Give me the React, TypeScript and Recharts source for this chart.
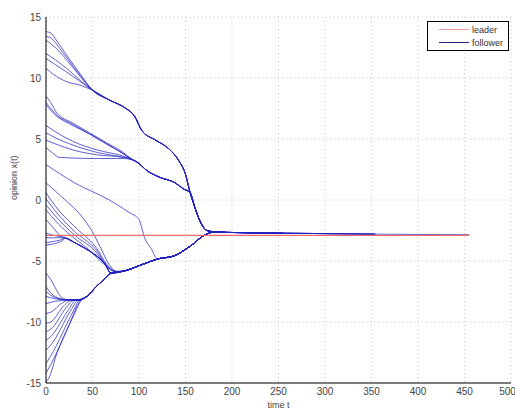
import React from 'react';
import { LineChart, Line, XAxis, YAxis, CartesianGrid } from 'recharts';

// [time, opinion] points
const upperTrunk = [[50, 9.0], [68, 8.2], [86, 7.5], [95, 6.9], [103, 5.7], [118, 4.9], [132, 4.2], [143, 3.2], [150, 2.1]];
const middleTrunk = [[93, 3.3], [100, 3.0], [107, 2.5], [121, 1.9], [139, 1.4], [148, 0.9]];
const finalDescent = [[155, 0.6], [160, -0.6], [166, -1.8], [173, -2.5], [180, -2.6]];
const branchDown = [[20, -3.1], [31, -3.5], [45, -4.1], [53, -4.5], [63, -5.2], [70, -6.0]];
const branchUp = [[35, -8.2], [44, -7.9], [54, -7.1], [61, -6.6], [70, -6.0]];
const lowerTrunk = [[70, -6.0], [85, -5.8], [103, -5.3], [122, -4.8], [137, -4.6], [151, -4.0], [160, -3.5], [166, -3.1], [176, -2.7], [180, -2.6]];
const consensusTail = [[192, -2.65], [255, -2.72], [354, -2.8], [455, -2.85]];

const leaderValues = [[0, -2.9], [455, -2.9]];

const upperHeads = [
  [[0, 13.8], [5, 13.7], [12, 13.0], [22, 11.9], [37, 10.3]],
  [[0, 13.4], [5, 13.3], [12, 12.7], [22, 11.7], [37, 10.2]],
  [[0, 13.1], [10, 12.5], [22, 11.5], [37, 10.1]],
  [[0, 12.0], [10, 11.5], [22, 10.8], [37, 9.8]],
  [[0, 11.6], [10, 11.1], [22, 10.5], [37, 9.7]],
  [[0, 10.8], [8, 10.3], [22, 9.7], [37, 9.4]],
];
const upperEnds = [192, 255, 192, 354, 192, 192];

const middleHeads = [
  [[0, 8.5], [5, 8.0], [11, 7.2], [29, 6.3], [47, 5.5], [65, 4.7], [83, 3.9]],
  [[0, 8.0], [11, 7.0], [29, 6.2], [47, 5.4], [65, 4.6], [83, 3.8]],
  [[0, 7.8], [11, 6.9], [29, 6.1], [47, 5.4], [65, 4.6], [83, 3.8]],
  [[0, 6.1], [10, 5.6], [29, 4.8], [55, 4.1], [83, 3.6]],
  [[0, 5.5], [10, 5.1], [29, 4.5], [55, 3.9], [83, 3.5]],
  [[0, 4.9], [10, 4.6], [29, 4.1], [55, 3.7], [83, 3.5]],
  [[0, 4.3], [8, 3.8], [14, 3.5], [50, 3.4], [83, 3.4]],
];
const middleEnds = [192, 192, 255, 192, 354, 192, 192];

const crossHeads = [
  [[0, 2.9], [31, 1.4], [68, 0.0], [89, -1.0], [100, -1.6], [106, -3.1], [114, -4.1], [119, -4.8]],
  [[0, 1.4], [17, 0.25], [39, -1.4], [49, -2.5], [58, -3.8], [68, -5.3], [76, -5.85]],
  [[0, 0.6], [10, -0.5], [31, -2.2], [53, -3.8], [68, -5.5], [76, -5.85]],
  [[0, 0.1], [10, -0.9], [31, -2.6], [53, -4.0], [68, -5.6], [76, -5.9]],
  [[0, -0.4], [10, -1.3], [31, -2.9], [53, -4.2], [66, -5.5], [76, -5.9]],
  [[0, -0.8], [10, -1.7], [25, -2.8], [45, -4.0], [63, -5.3], [76, -5.9]],
];
const crossEnds = [192, 192, 255, 192, 192, 354];

const leftHeads = [
  [[0, -1.6], [8, -2.3], [15, -2.9]],
  [[0, -2.7], [8, -2.9], [15, -3.0]],
  [[0, -3.1], [8, -3.1], [15, -3.1]],
  [[0, -3.5], [8, -3.4], [18, -3.2]],
  [[0, -3.7], [8, -3.6], [18, -3.3]],
];
const leftEnds = [192, 255, 192, 192, 455];

const bottomHeads = [
  [[0, -6.0], [5, -6.5], [10, -7.2], [17, -8.0], [25, -8.2]],
  [[0, -7.1], [5, -7.6], [12, -8.0], [25, -8.2]],
  [[0, -7.5], [10, -8.0], [25, -8.2]],
  [[0, -7.9], [10, -8.1], [25, -8.2]],
  [[0, -8.5], [10, -8.3], [25, -8.2]],
  [[0, -9.3], [5, -9.2], [18, -8.4], [25, -8.2]],
  [[0, -10.1], [5, -10.0], [20, -8.6], [28, -8.2]],
  [[0, -10.8], [5, -10.6], [22, -8.8], [30, -8.2]],
  [[0, -11.5], [5, -11.2], [25, -8.9], [32, -8.2]],
  [[0, -12.3], [5, -11.9], [27, -9.0], [33, -8.3]],
  [[0, -13.4], [5, -12.8], [30, -9.0], [35, -8.3]],
  [[0, -14.2], [5, -13.5], [32, -9.1], [37, -8.3]],
  [[0, -14.9], [3, -14.6], [12, -12.5], [25, -10.2], [35, -8.5], [38, -8.2]],
];
const bottomEnds = [192, 192, 255, 192, 192, 192, 354, 192, 192, 255, 192, 192, 192];

const xTicks = [0, 50, 100, 150, 200, 250, 300, 350, 400, 450, 500];
const yTicks = [-15, -10, -5, 0, 5, 10, 15];

const buildPath = (head: number[][], route: number[][][], end: number) => {
  const pts = [...head];
  for (const seg of route) {
    for (const p of seg) {
      if (p[0] > pts[pts.length - 1][0]) pts.push(p);
    }
  }
  for (const p of consensusTail) {
    if (p[0] > pts[pts.length - 1][0] && p[0] <= end) pts.push(p);
  }
  return pts.map(([t, x]) => ({ t, x }));
};

const followers = [
  ...upperHeads.map((h, i) => buildPath(h, [upperTrunk, finalDescent], upperEnds[i])),
  ...middleHeads.map((h, i) => buildPath(h, [middleTrunk, finalDescent], middleEnds[i])),
  ...crossHeads.map((h, i) => buildPath(h, [lowerTrunk], crossEnds[i])),
  ...leftHeads.map((h, i) => buildPath(h, [branchDown, lowerTrunk], leftEnds[i])),
  ...bottomHeads.map((h, i) => buildPath(h, [branchUp, lowerTrunk], bottomEnds[i])),
];
const leader = leaderValues.map(([t, x]) => ({ t, x }));

const FONT = '"Liberation Sans", Arial, sans-serif';
const LEADER_COLOR = '#f26a6a';
const FOLLOWER_COLOR = '#2222c4';

const LegendBox = () => (
  <div
    style={{
      position: 'absolute', left: 427, top: 21, width: 80, height: 27,
      border: '1px solid #000', background: '#fff', fontFamily: FONT, fontSize: 9, color: '#333',
      paddingTop: 1, boxSizing: 'content-box',
    }}
  >
    <div style={{ display: 'flex', alignItems: 'center', height: 13 }}>
      <div style={{ width: 30, height: 1, background: '#f4a0a0', margin: '0 3px 0 11px' }} />
      <span>leader</span>
    </div>
    <div style={{ display: 'flex', alignItems: 'center', height: 13 }}>
      <div style={{ width: 30, height: 1, background: '#2a2a90', margin: '0 3px 0 11px' }} />
      <span>follower</span>
    </div>
  </div>
);

export default function App() {
  return (
    <div style={{ position: 'absolute', left: 0, top: 0, width: 515, height: 412, background: '#fff' }}>
      <LineChart width={515} height={412} margin={{ top: 17, right: 4, left: 0, bottom: 0 }}>
        <CartesianGrid stroke="#c8c8c8" strokeDasharray="1 3" />
        <XAxis
          dataKey="t"
          type="number"
          domain={[0, 500]}
          ticks={xTicks}
          height={29}
          tickLine={false}
          tickSize={3}
          axisLine={{ stroke: '#000' }}
          tick={{ fontSize: 10, fill: '#444', fontFamily: FONT }}
          allowDuplicatedCategory={false}
          label={{ value: 'time t', position: 'insideBottom', offset: 4, fontSize: 9, fill: '#444', fontFamily: FONT }}
        />
        <XAxis xAxisId="top" orientation="top" type="number" domain={[0, 500]} ticks={xTicks} height={0} tick={false} tickLine={false} axisLine={{ stroke: '#000' }} />
        <YAxis
          type="number"
          domain={[-15, 15]}
          ticks={yTicks}
          width={46}
          tickLine={false}
          tickSize={3}
          axisLine={{ stroke: '#000' }}
          tick={{ fontSize: 10, fill: '#444', fontFamily: FONT }}
          label={{ value: 'opinion x(t)', angle: -90, position: 'insideLeft', offset: 14, fontSize: 9, fill: '#444', fontFamily: FONT }}
        />
        <YAxis yAxisId="right" orientation="right" domain={[-15, 15]} width={0} tick={false} tickLine={false} axisLine={{ stroke: '#000' }} />
        {followers.map((d, i) => (
          <Line
            key={i}
            data={d}
            dataKey="x"
            type="monotone"
            stroke={FOLLOWER_COLOR}
            strokeOpacity={0.72}
            strokeWidth={1}
            dot={false}
            isAnimationActive={false}
          />
        ))}
        <Line data={leader} dataKey="x" type="linear" stroke={LEADER_COLOR} strokeWidth={1.4} dot={false} isAnimationActive={false} />
      </LineChart>
      <LegendBox />
    </div>
  );
}
